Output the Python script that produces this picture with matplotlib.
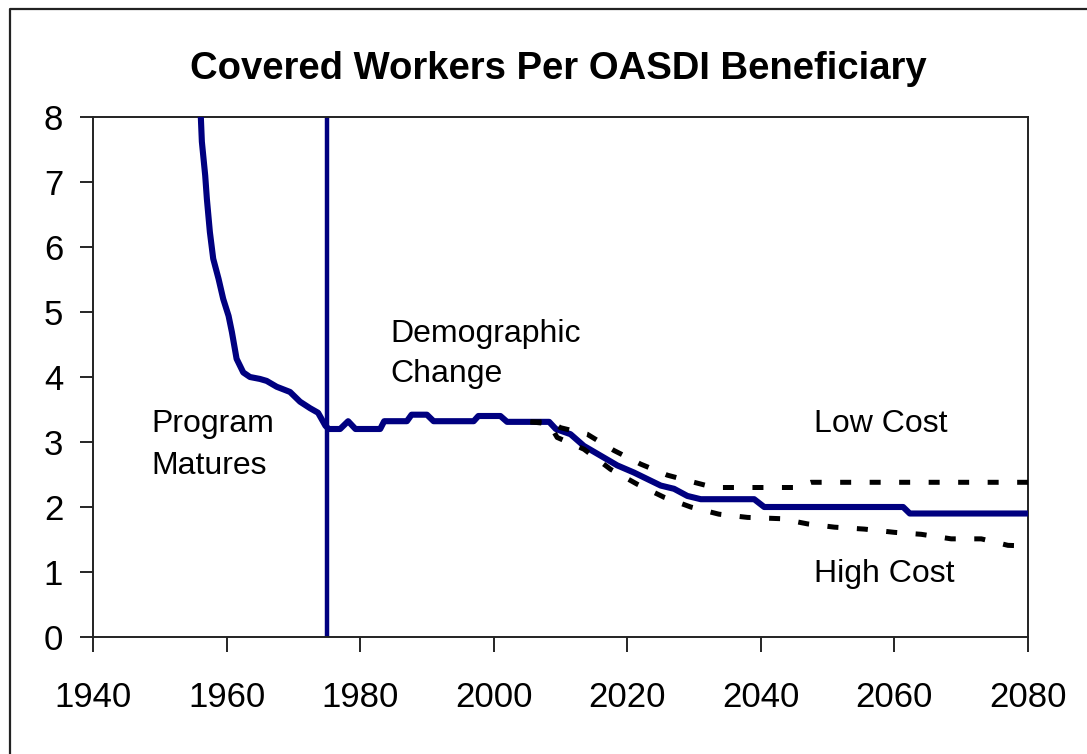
import matplotlib
matplotlib.use("Agg")
import matplotlib.pyplot as plt
from matplotlib.lines import Line2D

# ── DATA ───────────────────────────────────────────────────────────────────────
MAIN_YEARS = [1955.9, 1956.3, 1956.8, 1957.05, 1957.5, 1958.0, 1958.8, 1959.5,
              1960.3, 1960.8, 1961.5, 1962.5, 1963.5, 1965.0, 1966.0, 1967.5,
              1969.5, 1971.0, 1972.5, 1973.7, 1974.8, 1975.3,
              1977.0, 1978.2, 1979.3, 1983.0, 1983.6, 1987.0, 1987.7, 1990.0,
              1991.0, 1997.0, 1997.7, 2001.0, 2002.0, 2008.3, 2009.3, 2011.5,
              2013.5, 2016.0, 2018.5, 2021.0, 2023.0, 2025.0, 2027.0, 2029.0,
              2031.0, 2039.0, 2040.5, 2061.3, 2062.3, 2080.0]
MAIN_VALUES = [8.6, 7.62, 7.1, 6.74, 6.23, 5.82, 5.51, 5.2,
               4.94, 4.69, 4.28, 4.07, 4.0, 3.97, 3.94, 3.85,
               3.77, 3.62, 3.52, 3.45, 3.25, 3.2,
               3.2, 3.32, 3.2, 3.2, 3.32, 3.32, 3.42, 3.42,
               3.32, 3.32, 3.4, 3.4, 3.31, 3.31, 3.2, 3.12,
               2.94, 2.79, 2.64, 2.53, 2.43, 2.33, 2.28, 2.17,
               2.12, 2.12, 2.0, 2.0, 1.9, 1.9]

LOW_YEARS = [2005.5, 2008.5, 2010.0, 2014.0, 2018.0, 2022.0, 2026.0, 2030.0,
             2033.0, 2045.0, 2047.5, 2080.0]
LOW_VALUES = [3.31, 3.31, 3.22, 3.12, 2.87, 2.66, 2.49, 2.38,
              2.3, 2.3, 2.38, 2.38]

HIGH_YEARS = [2005.5, 2008.3, 2009.5, 2013.5, 2017.5, 2021.5, 2025.5, 2029.5,
              2033.7, 2038.0, 2043.0, 2047.0, 2051.0, 2055.5, 2060.0, 2064.0,
              2068.5, 2073.0, 2077.0, 2080.0]
HIGH_VALUES = [3.31, 3.28, 3.07, 2.89, 2.58, 2.35, 2.15, 2.0,
               1.89, 1.84, 1.82, 1.74, 1.69, 1.66, 1.61, 1.58,
               1.51, 1.51, 1.41, 1.4]

MATURITY_YEAR = 1975
X_TICKS = list(range(1940, 2081, 20))
Y_TICKS = list(range(0, 9))

NAVY = "#000080"
W, H = 1087, 754

plt.rcParams["font.family"] = ["Liberation Sans", "DejaVu Sans"]

fig = plt.figure(figsize=(W / 100, H / 100), dpi=100)
fig.patch.set_facecolor("white")

# outer chart frame (left + top visible, rest runs off the image)
fx = 10 / W
fy = 1 - 9 / H
fig.add_artist(Line2D([fx, fx, 1.01], [-0.01, fy, fy], transform=fig.transFigure,
                      color="#222222", lw=1.6))

ax = fig.add_axes([93 / W, 1 - 637 / H, (1028 - 93) / W, (637 - 117) / H])

ax.axvline(MATURITY_YEAR, ymin=0, ymax=1, color=NAVY, lw=3.2, zorder=2)
ax.plot(MAIN_YEARS, MAIN_VALUES, color=NAVY, lw=4.4, zorder=3,
        solid_joinstyle="round")
ax.plot(LOW_YEARS, LOW_VALUES, color="black", lw=3.6, zorder=4,
        linestyle=(0, (2.2, 3.7)), dash_capstyle="butt")
ax.plot(HIGH_YEARS, HIGH_VALUES, color="black", lw=3.6, zorder=4,
        linestyle=(0, (2.2, 3.7)), dash_capstyle="butt")

ax.set_xlim(1940, 2080)
ax.set_ylim(0, 8)
ax.set_xticks(X_TICKS)
ax.set_yticks(Y_TICKS)
ax.tick_params(axis="x", direction="out", length=10.5, width=1.2, pad=21,
               labelsize=25, colors="black")
ax.tick_params(axis="y", direction="out", length=9.5, width=1.2, pad=12,
               labelsize=25, colors="black")
for sp in ax.spines.values():
    sp.set_linewidth(1.4)
    sp.set_color("#222222")

# annotations
txt = dict(fontsize=23, color="black", va="baseline", ha="left")
ax.text(1948.8, 3.16, "Program", **txt)
ax.text(1948.8, 2.50, "Matures", **txt)
ax.text(1984.5, 4.54, "Demographic", **txt)
ax.text(1984.5, 3.93, "Change", **txt)
ax.text(2048.0, 3.16, "Low Cost", **txt)
ax.text(2048.0, 0.85, "High Cost", **txt)

fig.text(558 / W, 1 - 79 / H, "Covered Workers Per OASDI Beneficiary",
         ha="center", va="baseline", fontsize=27.5, fontweight="bold")

fig.savefig("out.png", dpi=100)
